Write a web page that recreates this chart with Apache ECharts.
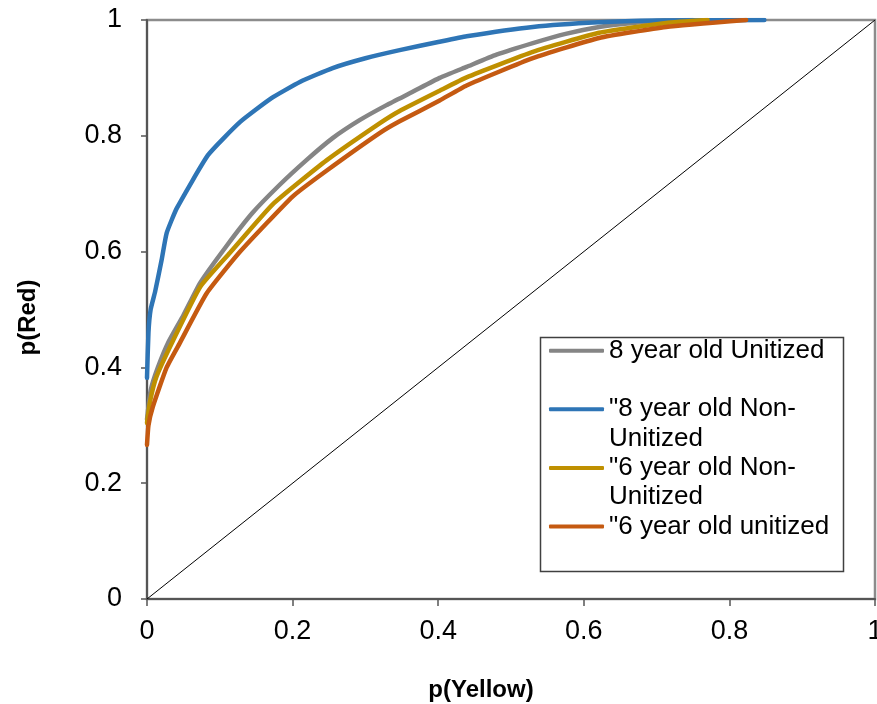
<!DOCTYPE html>
<html>
<head>
<meta charset="utf-8">
<script src="https://cdn.jsdelivr.net/npm/echarts@6/dist/echarts.min.js"></script>
<style>
  html, body { margin: 0; padding: 0; background: #fff; }
  #rocPlot { width: 877px; height: 704px; }
</style>
</head>
<body>
<div id="rocPlot"></div>
<script>
// values: p(Yellow) on x, p(Red) on y
var grayX = [0, 0.005, 0.015, 0.03, 0.05, 0.073, 0.11, 0.145, 0.182, 0.219, 0.255, 0.292, 0.329, 0.365, 0.402, 0.439, 0.48, 0.53, 0.575, 0.621, 0.667, 0.71, 0.75];
var grayY = [0.31, 0.36, 0.40, 0.445, 0.49, 0.546, 0.611, 0.667, 0.715, 0.758, 0.796, 0.827, 0.853, 0.876, 0.9, 0.919, 0.94, 0.96, 0.976, 0.988, 0.995, 0.999, 1.0];

var blueX = [0, 0.002, 0.005, 0.011, 0.02, 0.027, 0.041, 0.084, 0.128, 0.171, 0.21, 0.255, 0.3, 0.347, 0.4, 0.439, 0.53, 0.62, 0.7, 0.848];
var blueY = [0.382, 0.46, 0.5, 0.53, 0.585, 0.632, 0.675, 0.767, 0.824, 0.865, 0.893, 0.917, 0.934, 0.948, 0.962, 0.972, 0.988, 0.996, 0.999, 1.0];

var goldX = [0, 0.004, 0.013, 0.036, 0.073, 0.114, 0.173, 0.247, 0.32, 0.347, 0.402, 0.439, 0.53, 0.621, 0.713, 0.77];
var goldY = [0.304, 0.34, 0.384, 0.447, 0.539, 0.598, 0.682, 0.758, 0.822, 0.843, 0.878, 0.901, 0.945, 0.978, 0.995, 1.0];

var orangeX = [0, 0.002, 0.008, 0.027, 0.045, 0.082, 0.128, 0.2, 0.247, 0.32, 0.347, 0.402, 0.439, 0.53, 0.621, 0.713, 0.823];
var orangeY = [0.266, 0.30, 0.332, 0.4, 0.442, 0.528, 0.6, 0.695, 0.74, 0.805, 0.825, 0.861, 0.887, 0.934, 0.969, 0.988, 1.0];

var chanceLine = [[0, 0], [1, 1]];

var seriesNames = ['8 year old Unitized', '"8 year old Non-\nUnitized', '"6 year old Non-\nUnitized', '"6 year old unitized'];
var seriesColors = ['#858585', '#2e75b6', '#bf9000', '#c55a11'];

function pairs(xs, ys) {
    return xs.map(function (x, i) { return [x, ys[i]]; });
}

var LH = 29.3;
var font = 'Liberation Sans, Arial, sans-serif';

var curves = [pairs(grayX, grayY), pairs(blueX, blueY), pairs(goldX, goldY), pairs(orangeX, orangeY)];

var series = [{
    name: 'chance',
    type: 'line',
    data: chanceLine,
    symbol: 'none',
    silent: true,
    lineStyle: { color: '#000', width: 1 },
    z: 1
}];
curves.forEach(function (d, i) {
    series.push({
        name: seriesNames[i],
        type: 'line',
        data: d,
        symbol: 'none',
        smooth: 0.15,
        color: seriesColors[i],
        lineStyle: { color: seriesColors[i], width: 4.5, cap: 'round', join: 'round' },
        z: 2 + i
    });
});

var option = {
    animation: false,
    backgroundColor: '#fff',
    textStyle: { fontFamily: font },
    grid: {
        left: 147,
        right: 2,
        top: 20,
        bottom: 105,
        outerBoundsMode: 'none',
        containLabel: false,
        show: true,
        borderColor: '#8c8c8c',
        borderWidth: 2.5
    },
    legend: {
        orient: 'vertical',
        left: 549,
        top: 350.7 - 1.5 * LH,
        padding: 0,
        itemGap: -LH,
        itemWidth: 55,
        itemHeight: 4,
        icon: 'roundRect',
        data: seriesNames,
        // pad every entry so its swatch sits on the first text line
        formatter: function (name) {
            return name.indexOf('\n') >= 0 ? '\n' + name : '\n' + name + '\n';
        },
        textStyle: {
            fontFamily: font,
            fontSize: 26,
            lineHeight: LH,
            color: '#000'
        }
    },
    graphic: [{
        type: 'rect',
        left: 538,
        top: 335,
        shape: { width: 303, height: 234 },
        style: { fill: 'none', stroke: '#404040', lineWidth: 1.5 },
        z: 0
    }],
    xAxis: {
        type: 'value',
        min: 0,
        max: 1,
        interval: 0.2,
        name: 'p(Yellow)',
        nameLocation: 'middle',
        nameGap: 79,
        nameTextStyle: { fontFamily: font, fontSize: 24, fontWeight: 'bold', color: '#000', padding: [0, 60, 0, 0] },
        axisLine: { lineStyle: { color: '#555', width: 2 } },
        axisTick: { show: true, inside: false, length: 7, lineStyle: { color: '#555', width: 1.5 } },
        axisLabel: { fontFamily: font, fontSize: 27, color: '#000', margin: 19 },
        splitLine: { show: false }
    },
    yAxis: {
        type: 'value',
        min: 0,
        max: 1,
        interval: 0.2,
        name: 'p(Red)',
        nameLocation: 'middle',
        nameGap: 107,
        nameTextStyle: { fontFamily: font, fontSize: 24, fontWeight: 'bold', color: '#000', padding: [0, 16, 0, 0] },
        axisLine: { lineStyle: { color: '#555', width: 2 } },
        axisTick: { show: true, inside: false, length: 6, lineStyle: { color: '#555', width: 1.5 } },
        axisLabel: { fontFamily: font, fontSize: 27, color: '#000', margin: 25 },
        splitLine: { show: false }
    },
    series: series
};

var chart = echarts.init(document.getElementById('rocPlot'), null, { renderer: 'canvas' });
chart.setOption(option);
</script>
</body>
</html>
